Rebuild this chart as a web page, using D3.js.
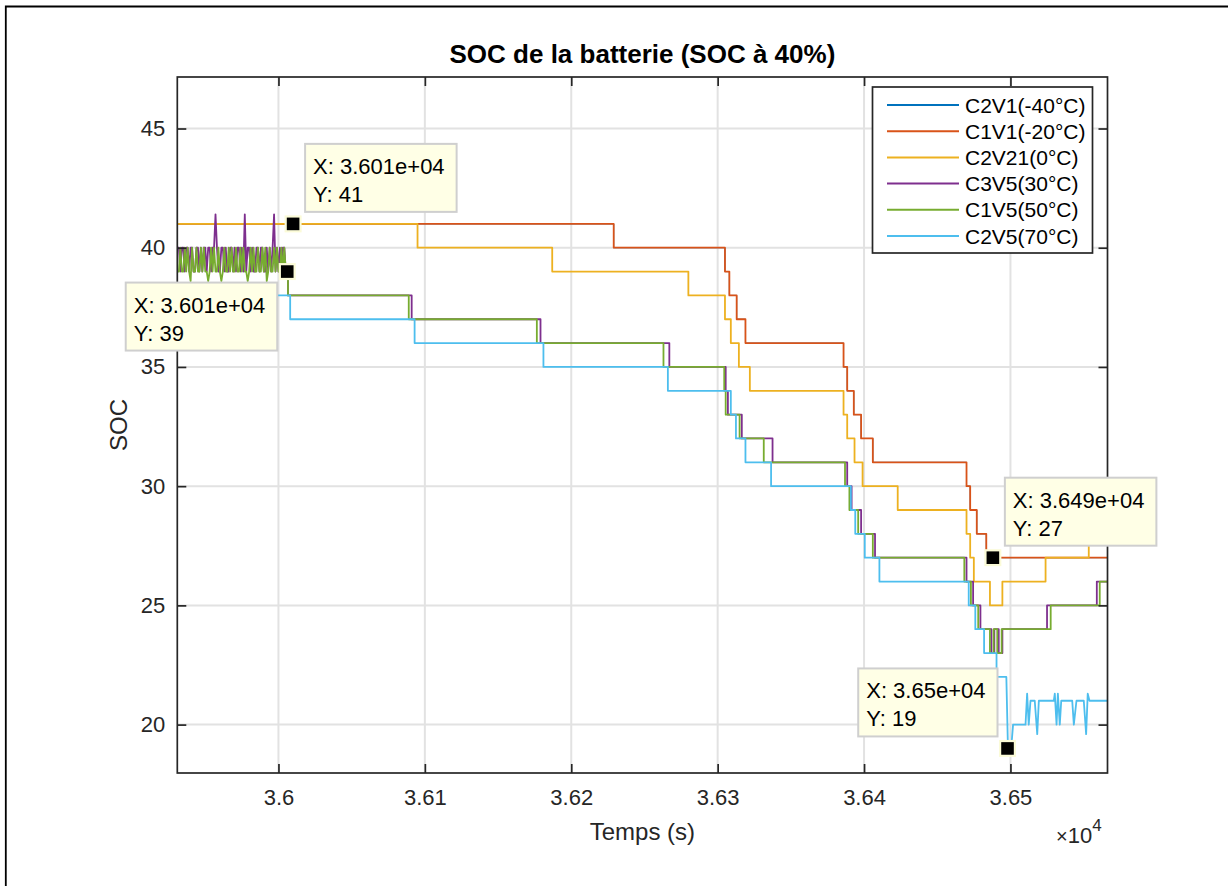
<!DOCTYPE html>
<html>
<head>
<meta charset="utf-8">
<script src="https://cdn.jsdelivr.net/npm/d3@7"></script>
<style>
  body { margin: 0; background: #fff; }
  text { font-family: Arial, "Liberation Sans", Helvetica, sans-serif; }
</style>
</head>
<body>
<div id="chart"></div>
<script>
// ---- data ----
const seriesNames = ["C2V1(-40°C)", "C1V1(-20°C)", "C2V21(0°C)", "C3V5(30°C)", "C1V5(50°C)", "C2V5(70°C)"];
const seriesColors = ["#0072BD", "#D95319", "#EDB120", "#7E2F8E", "#77AC30", "#4DBEEE"];

const xTicks = [36000, 36100, 36200, 36300, 36400, 36500];
const xTickLabels = ["3.6", "3.61", "3.62", "3.63", "3.64", "3.65"];
const yTicks = [20, 25, 30, 35, 40, 45];
const xDomain = [35930.9, 36566.3];
const yDomain = [17.97, 47.16];

// noisy start of C3V5 and C1V5, one sample per second from noiseStart
const noiseStart = 35931;
const c3v5Noise = [40,40,39,40,40,39,40,40,39,40, 40,39,39,40,40,39,40,39,40,40,
  39,40,40,39,40,40,41.4,40,39,39, 40,40,39,40,39,39,40,40,39,40,
  39,40,40,39,40,39,41.4,39,40,40, 39,40,39,39,40,40,39,40,40,39,
  39,40,39,40,39,40,41.4,39,40,39, 40,39,40,40,39];
const c1v5Noise = [39,39,40,39,39,40,39,40,39,38.6, 40,39,39,40,39,39,40,39,40,39,
  39,38.6,39,40,39,40,39,39,40,39, 38.6,39,40,39,39,40,39,40,39,39,
  40,39,39,40,39,40,39,39,38.6,39, 40,39,40,39,39,40,39,39,40,39,
  40,38.6,39,40,39,39,40,39,40,39, 39,40,39,40,39];

// staircase changes: [time (s), SOC]
// C2V1 is not visible in the picture: it lies under C1V1
const c2v1Steps = [[35930,41],[36229,40],[36305,39],[36308,38],[36313,37],[36319,36],[36386,35],[36388.5,34],
  [36393,33],[36398,32],[36406,31],[36470,30],[36472.5,29],[36477,28],[36483.5,27],[36567,27]];
const c1v1Steps = [[35930,41],[36229,40],[36305,39],[36308,38],[36313,37],[36319,36],[36386,35],[36388.5,34],
  [36393,33],[36398,32],[36406,31],[36470,30],[36472.5,29],[36477,28],[36483.5,27],[36567,27]];
const c2v21Steps = [[35930,41],[36095,40],[36187,39],[36280,38],[36305,37],[36309,36],[36314.5,35],[36322,34],
  [36386,33],[36388.5,32],[36393.5,31],[36399,30],[36423,29],[36470,28],[36472.5,27],[36475,26],[36486,25],
  [36494.5,26],[36524,27],[36553.5,28],[36567,28]];
const c3v5Steps = [[36006.5,38],[36091,37],[36179,36],[36267,35],[36305.5,34],[36307,33],[36316.5,32],[36337.5,31],
  [36388.5,30],[36391.5,29],[36398,28],[36407.5,27],[36470,26],[36474.5,25],[36479.5,24],[36487,23],[36489,24],
  [36492,23],[36494.5,24],[36525,25],[36559,26],[36567,26]];
const c1v5Steps = [[36006.5,38],[36089,37],[36176.5,36],[36263,35],[36304.5,34],[36305.5,33],[36315,32],[36331.5,31],
  [36387,30],[36390,29],[36396,28],[36406,27],[36468.5,26],[36473,25],[36478,24],[36486,23],[36488.5,24],
  [36491,23],[36494,24],[36527.5,25],[36561,26],[36567,26]];
const c2v5Steps = [[35930,38],[36008,37],[36093,36],[36181,35],[36266,34],[36309,33],[36312.5,32],[36319,31],
  [36336.5,30],[36391,29],[36394,28],[36400.5,27],[36410.5,26],[36471.5,25],[36476,24],[36482,23],[36490.5,22],
  [36497.2,22]];
// noisy end of C2V5: [time, SOC]
const c2v5Tail = [[36498.3,19],[36500.5,19],[36501.8,20],[36510.3,20],[36511.4,21.3],[36512.5,20],[36513.7,21],
  [36516.6,21],[36518.3,19.6],[36519.4,21],[36529.6,21],[36530.3,21.3],[36531.5,20],[36532.4,21.3],[36533.7,20],
  [36534.7,21],[36542.2,21],[36543.3,20],[36545.1,21],[36550.1,21],[36551.7,19.6],[36552.8,21.3],[36554,21],[36567,21]];

// data tips
const tipT = [36010, 36006, 36488, 36498];
const tipV = [41, 39, 27, 19];
const tipXText = ["3.601e+04", "3.601e+04", "3.649e+04", "3.65e+04"];
const tipSide = ["ne", "sw", "ne", "nw"];

// ---- helpers ----
function stairs(steps, from) {
  const pts = [];
  let prev = from;
  steps.forEach(([t, v]) => {
    if (prev !== undefined) pts.push([t, prev]);
    pts.push([t, v]);
    prev = v;
  });
  return pts;
}
const noisePts = vals => vals.map((v, i) => [noiseStart + i, v]);

const seriesPoints = [
  stairs(c2v1Steps),
  stairs(c1v1Steps),
  stairs(c2v21Steps),
  noisePts(c3v5Noise).concat(stairs(c3v5Steps, c3v5Noise[c3v5Noise.length - 1])),
  noisePts(c1v5Noise).concat(stairs(c1v5Steps, c1v5Noise[c1v5Noise.length - 1])),
  stairs(c2v5Steps).concat(c2v5Tail)
];

// ---- drawing ----
const width = 1228, height = 886;
const plot = { left: 177.3, right: 1107.5, top: 77, bottom: 773 };
const axisColor = "#262626";

const svg = d3.select("#chart").append("svg")
  .attr("width", width).attr("height", height);

svg.append("rect").attr("width", width).attr("height", height).attr("fill", "#fff");
// figure frame (only top and left edges visible)
svg.append("path").attr("d", `M5.8,${height} V6.5 H${width}`)
  .attr("fill", "none").attr("stroke", "#000").attr("stroke-width", 1.8);

const x = d3.scaleLinear().domain(xDomain).range([plot.left, plot.right]);
const y = d3.scaleLinear().domain(yDomain).range([plot.bottom, plot.top]);

// grid
const grid = svg.append("g").attr("stroke", "#e2e2e2").attr("stroke-width", 2);
grid.selectAll(".gx").data(xTicks).join("line")
  .attr("x1", d => x(d)).attr("x2", d => x(d)).attr("y1", plot.top).attr("y2", plot.bottom);
grid.selectAll(".gy").data(yTicks).join("line")
  .attr("y1", d => y(d)).attr("y2", d => y(d)).attr("x1", plot.left).attr("x2", plot.right);

svg.append("clipPath").attr("id", "clip").append("rect")
  .attr("x", plot.left).attr("y", plot.top)
  .attr("width", plot.right - plot.left).attr("height", plot.bottom - plot.top);

const line = d3.line().x(d => x(d[0])).y(d => y(d[1]));
svg.append("g").attr("clip-path", "url(#clip)")
  .selectAll("path").data(seriesPoints).join("path")
  .attr("d", line)
  .attr("fill", "none")
  .attr("stroke", (d, i) => seriesColors[i])
  .attr("stroke-width", (d, i) => i === 0 ? 1 : 1.8)
  .attr("stroke-linejoin", "round");

// axes
function styleAxis(g) {
  g.select(".domain").remove();
  g.selectAll("line").attr("stroke", axisColor).attr("stroke-width", 1.7);
  g.selectAll("text").attr("fill", axisColor).attr("font-size", "22px");
}
svg.append("g").attr("transform", `translate(0,${plot.bottom})`)
  .call(d3.axisBottom(x).tickValues(xTicks).tickFormat((d, i) => xTickLabels[i]).tickSize(-9).tickPadding(16))
  .call(styleAxis);
svg.append("g").attr("transform", `translate(0,${plot.top})`)
  .call(d3.axisTop(x).tickValues(xTicks).tickFormat("").tickSize(-9))
  .call(styleAxis);
svg.append("g").attr("transform", `translate(${plot.left},0)`)
  .call(d3.axisLeft(y).tickValues(yTicks).tickSize(-9).tickPadding(12))
  .call(styleAxis);
svg.append("g").attr("transform", `translate(${plot.right},0)`)
  .call(d3.axisRight(y).tickValues(yTicks).tickFormat("").tickSize(-9))
  .call(styleAxis);

svg.append("rect")
  .attr("x", plot.left).attr("y", plot.top)
  .attr("width", plot.right - plot.left).attr("height", plot.bottom - plot.top)
  .attr("fill", "none").attr("stroke", axisColor).attr("stroke-width", 1.7);

// title and labels
svg.append("text").attr("x", (plot.left + plot.right) / 2).attr("y", 63)
  .attr("text-anchor", "middle").attr("font-size", "26px").attr("font-weight", "bold")
  .attr("fill", "#000").text("SOC de la batterie (SOC à 40%)");
svg.append("text").attr("x", (plot.left + plot.right) / 2).attr("y", 840)
  .attr("text-anchor", "middle").attr("font-size", "24px").attr("fill", axisColor).text("Temps (s)");
svg.append("text").attr("transform", `translate(127,${(plot.top + plot.bottom) / 2}) rotate(-90)`)
  .attr("text-anchor", "middle").attr("font-size", "24px").attr("fill", axisColor).text("SOC");

const expo = svg.append("text").attr("x", 1056).attr("y", 843).attr("fill", axisColor);
expo.append("tspan").attr("font-size", "20px").text("×");
expo.append("tspan").attr("font-size", "22px").text("10");
expo.append("tspan").attr("font-size", "17px").attr("dy", -12).text("4");

// legend
const lg = { x: plot.right - 235, y: plot.top + 10, w: 220, h: 166, row: 26.2, first: 18 };
const legend = svg.append("g");
legend.append("rect").attr("x", lg.x).attr("y", lg.y).attr("width", lg.w).attr("height", lg.h)
  .attr("fill", "#fff").attr("stroke", axisColor).attr("stroke-width", 1.7);
const items = legend.selectAll("g.item").data(seriesNames).join("g")
  .attr("transform", (d, i) => `translate(${lg.x},${lg.y + lg.first + i * lg.row})`);
items.append("line").attr("x1", 14.5).attr("x2", 86.5)
  .attr("stroke", (d, i) => seriesColors[i]).attr("stroke-width", 2);
items.append("text").attr("x", 92.5).attr("dy", "0.36em").attr("font-size", "21px")
  .attr("fill", "#000").text(d => d);

// data tips
tipT.forEach((t, i) => {
  const mx = x(t), my = y(tipV[i]);
  const g = svg.append("g");
  const box = g.append("rect").attr("fill", "#ffffe6").attr("stroke", "#cfcfcf").attr("stroke-width", 2);
  const t1 = g.append("text").attr("font-size", "22px").attr("fill", "#000").text("X: " + tipXText[i]);
  const t2 = g.append("text").attr("font-size", "22px").attr("fill", "#000").text("Y: " + tipV[i]);
  const bw = t1.node().getComputedTextLength() + 20, bh = 68;
  const side = tipSide[i];
  const bx = side.endsWith("e") ? mx + 12 : mx - 10 - bw;
  const by = side.startsWith("n") ? my - 12 - bh : my + 11;
  box.attr("x", bx).attr("y", by).attr("width", bw).attr("height", bh);
  t1.attr("x", bx + 8).attr("y", by + 30);
  t2.attr("x", bx + 8).attr("y", by + 58);
  g.append("rect").attr("x", mx - 8.5).attr("y", my - 8.5).attr("width", 17).attr("height", 17)
    .attr("fill", "#fbfbd8");
  g.append("rect").attr("x", mx - 6.3).attr("y", my - 6.3).attr("width", 12.6).attr("height", 12.6)
    .attr("fill", "#000");
});
</script>
</body>
</html>
